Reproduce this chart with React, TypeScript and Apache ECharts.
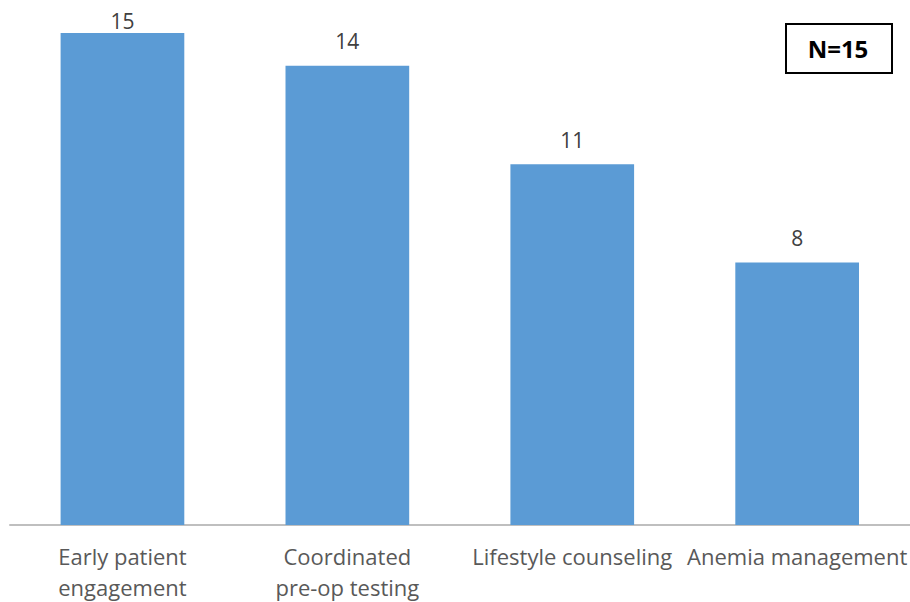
import React, { useEffect, useRef } from "react";
import * as echarts from "echarts";

// Readiness practices and how many of the 15 sites reported each
const categories = [
  "Early patient\nengagement",
  "Coordinated\npre-op testing",
  "Lifestyle counseling",
  "Anemia management",
];
const siteCounts = [15, 14, 11, 8];
const sampleLabel = "N=15";

const FONT = "'Open Sans', 'Noto Sans', sans-serif";

export default function App() {
  const ref = useRef<HTMLDivElement>(null);

  useEffect(() => {
    if (!ref.current) return;
    const chart = echarts.init(ref.current, undefined, { renderer: "svg" });
    chart.setOption({
      animation: false,
      backgroundColor: "#ffffff",
      grid: { left: 10, right: -2, top: 33, bottom: 75, containLabel: false },
      xAxis: {
        type: "category",
        data: categories,
        axisLine: { lineStyle: { color: "#bfbfbf", width: 2 } },
        axisTick: { show: false },
        axisLabel: {
          color: "#595959",
          fontFamily: FONT,
          fontSize: 22,
          lineHeight: 31,
          margin: 15,
          interval: 0,
        },
      },
      yAxis: {
        type: "value",
        min: 0,
        max: 15,
        show: false,
        splitLine: { show: false },
      },
      series: [
        {
          type: "bar",
          data: siteCounts.map((v, i) => ({
            value: v,
            // the tallest bar's label sits squeezed against the top edge
            label: i === 0 ? { distance: 2 } : undefined,
          })),
          barCategoryGap: "45%",
          itemStyle: { color: "#5b9bd5" },
          label: {
            show: true,
            position: "top",
            distance: 14,
            color: "#404040",
            fontFamily: FONT,
            fontSize: 21,
          },
        },
      ],
      graphic: [
        {
          type: "rect",
          left: 785,
          top: 23,
          shape: { width: 106, height: 49 },
          style: { fill: "#ffffff", stroke: "#000000", lineWidth: 2 },
        },
        {
          type: "text",
          x: 838,
          y: 48,
          style: {
            text: sampleLabel,
            fill: "#000000",
            font: `bold 24px ${FONT}`,
            textAlign: "center",
            textVerticalAlign: "middle",
          },
        },
      ],
    });
    return () => chart.dispose();
  }, []);

  return (
    <div
      ref={ref}
      style={{ width: 910, height: 602, position: "absolute", left: 0, top: 0 }}
    />
  );
}
